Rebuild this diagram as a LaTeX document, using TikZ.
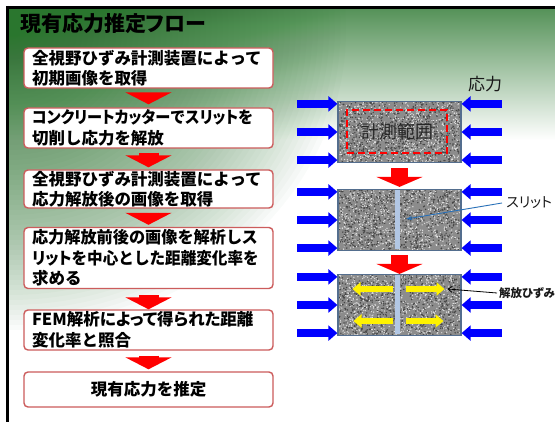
\documentclass[tikz,border=0pt]{standalone}
\usepackage{fontspec}
\usetikzlibrary{arrows.meta}
\newfontfamily\jp{Noto Sans CJK JP}
\newfontfamily\jpp{Noto Sans CJK JP}[RawFeature=+palt]
% proportional kana for a run of text
\newcommand{\pk}[1]{{\addfontfeatures{RawFeature=+palt}#1}}
% slightly condensed line
\newcommand{\narrow}[2]{\scalebox{#1}[1]{#2}}

\definecolor{bggreen}{RGB}{42,118,46}
\definecolor{boxred}{RGB}{204,92,92}
\definecolor{steel}{RGB}{84,110,142}
\definecolor{slitblue}{RGB}{178,199,228}
\definecolor{leaderblue}{RGB}{40,112,184}
\definecolor{granmid}{RGB}{140,140,140}
\definecolor{grandark}{RGB}{70,70,70}
\definecolor{granlight}{RGB}{225,225,225}

\tikzset{
  flowbox/.style={draw=boxred, line width=1.4pt, rounded corners=4pt, fill=white,
    inner xsep=8pt, inner ysep=0pt, text width=233pt, align=left,
    font=\jp\bfseries\fontsize{16.5}{20.5}\selectfont},
  flowarrow/.style={draw=red, line width=20pt, -{Triangle[width=46pt,length=12pt]}},
  downarrow/.style={draw=red, line width=17pt, -{Triangle[width=46pt,length=10pt]}},
  pressarrow/.style={draw=blue, line width=8pt, -{Triangle[width=15pt,length=9pt]}},
  strainarrow/.style={draw=yellow, line width=6pt, -{Triangle[width=13pt,length=8pt]}},
  granite/.style={draw=steel, line width=1.2pt, fill=granmid, minimum width=123pt,
    minimum height=61pt, inner sep=0pt,
    path picture={
      \foreach \k in {1,...,800}{
        \fill[grandark] ([shift={(rnd*125,rnd*63)}]path picture bounding box.north west) circle (0.8pt);
        \fill[granlight] ([shift={(rnd*125,rnd*63)}]path picture bounding box.north west) circle (0.7pt);
      }
    }},
  slit/.style={fill=slitblue, minimum width=5pt, minimum height=59pt, inner sep=0pt},
  label/.style={inner sep=0pt, anchor=west, text=black!90, font=\jpp\fontsize{17}{17}\selectfont}
}

\begin{document}
\begin{tikzpicture}[x=1pt,y=-1pt]
\pgfmathsetseed{4242}
\useasboundingbox (0,0) rectangle (555,422);

% slide background: green band along the top and a soft glow in the upper left
\fill[white] (0,0) rectangle (555,422);
\begin{scope}
  \clip (7.5,7.5) rectangle (555,422);
  \shade[top color=bggreen, bottom color=white] (7.5,-25) rectangle (555,140);
  \foreach \i in {1,...,60}{
    \fill[bggreen, fill opacity=0.022] (10,30) ellipse ({5.6*\i} and {5*\i});
  }
\end{scope}
\draw[black, line width=3pt] (6,7.5) -- (555,7.5);
\draw[black, line width=3pt] (7.5,6) -- (7.5,422);

% title
\node[anchor=west, inner sep=0pt, font=\jpp\bfseries\fontsize{21}{21}\selectfont] (title) at (20,24) {現有応力推定フロー};

% procedure flow
\node[flowbox, minimum height=40pt] (s1) at (148.5,68) {全視野ひずみ計測装置によって\\初期画像を取得};
\node[flowbox, minimum height=40pt] (s2) at (148.5,128) {\narrow{0.92}{\pk{コンクリートカッター}で\pk{スリット}を}\\切削し応力を解放};
\node[flowbox, minimum height=38pt] (s3) at (148.5,189) {全視野ひずみ計測装置によって\\応力解放後の画像を取得};
\node[flowbox, minimum height=61pt] (s4) at (148.5,258) {\narrow{0.98}{応力解放前後の画像を解析し\pk{ス}}\\\narrow{0.945}{\pk{リット}を中心とした距離変化率を}\\求める};
\node[flowbox, minimum height=40pt] (s5) at (148.5,330) {\pk{FEM解析によって得られた距離}\\変化率と照合};
\node[flowbox, minimum height=35pt, align=center] (s6) at (148.5,389.5) {現有応力を推定};

\draw[flowarrow] ([yshift=-5pt]s1.south) -- ([yshift=3pt]s2.north);
\draw[flowarrow] ([yshift=-4pt]s2.south) -- ([yshift=2pt]s3.north);
\draw[flowarrow] ([yshift=-4pt]s3.south) -- ([yshift=2pt]s4.north);
\draw[flowarrow] ([yshift=-6pt]s4.south) -- ([yshift=0pt]s5.north);
\draw[flowarrow] ([yshift=-5pt]s5.south) -- ([yshift=2pt]s6.north);

% concrete specimen: before cutting
\node[granite] (b1) at (399.5,132) {};
\node[draw=red, line width=2pt, dash pattern=on 7pt off 4pt, minimum width=100pt,
      minimum height=43pt, inner sep=0pt, font=\jp\fontsize{18}{18}\selectfont, text=black!85]
      (meas) at (397,131.5) {計測範囲};
\node[label] (stress) at (468,84) {応力};

% after cutting the slit
\node[granite] (b2) at (399.5,220) {};
\node[slit] (slit2) at (397.5,220) {};
\node[label, font=\jpp\fontsize{14}{14}\selectfont] (slitlbl) at (506,203) {スリット};
\draw[leaderblue, line width=0.9pt, -{Stealth[length=6pt,width=4pt]}]
  ([xshift=-4pt]slitlbl.west) -- ([xshift=6pt,yshift=1pt]slit2.east);

% released strain
\node[granite] (b3) at (399.5,305) {};
\node[slit] (slit3) at (397.5,305) {};
\draw[strainarrow] ([xshift=-7pt,yshift=16pt]b3.center) -- ([xshift=-47pt,yshift=16pt]b3.center);
\draw[strainarrow] ([xshift=6pt,yshift=16pt]b3.center) -- ([xshift=45pt,yshift=16pt]b3.center) coordinate (relt);
\draw[strainarrow] ([xshift=-7pt,yshift=-16pt]b3.center) -- ([xshift=-46pt,yshift=-16pt]b3.center);
\draw[strainarrow] ([xshift=6pt,yshift=-16pt]b3.center) -- ([xshift=44pt,yshift=-16pt]b3.center);
\node[label, font=\jpp\bfseries\fontsize{11.5}{11.5}\selectfont] (rellbl) at (499,293) {解放ひずみ};
\draw[black, line width=0.8pt, -{Straight Barb[length=4pt,width=6pt]}]
  ([xshift=-2pt]rellbl.west) -- ([xshift=3pt]relt);

% compressive stress on both faces
\foreach \b in {b1,b2,b3}{
  \draw[pressarrow] ([xshift=-40pt,yshift=-3pt]\b.north west) -- ([yshift=-3pt]\b.north west);
  \draw[pressarrow] ([xshift=-40pt]\b.west) -- (\b.west);
  \draw[pressarrow] ([xshift=-40pt,yshift=3pt]\b.south west) -- ([yshift=3pt]\b.south west);
  \draw[pressarrow] ([xshift=40pt,yshift=-3pt]\b.north east) -- ([yshift=-3pt]\b.north east);
  \draw[pressarrow] ([xshift=40pt]\b.east) -- (\b.east);
  \draw[pressarrow] ([xshift=40pt,yshift=3pt]\b.south east) -- ([yshift=3pt]\b.south east);
}

% loading sequence
\draw[downarrow] ([yshift=-5pt]b1.south) -- ([yshift=2pt]b2.north);
\draw[downarrow] ([yshift=-4pt]b2.south) -- ([yshift=0pt]b3.north);
\end{tikzpicture}
\end{document}
